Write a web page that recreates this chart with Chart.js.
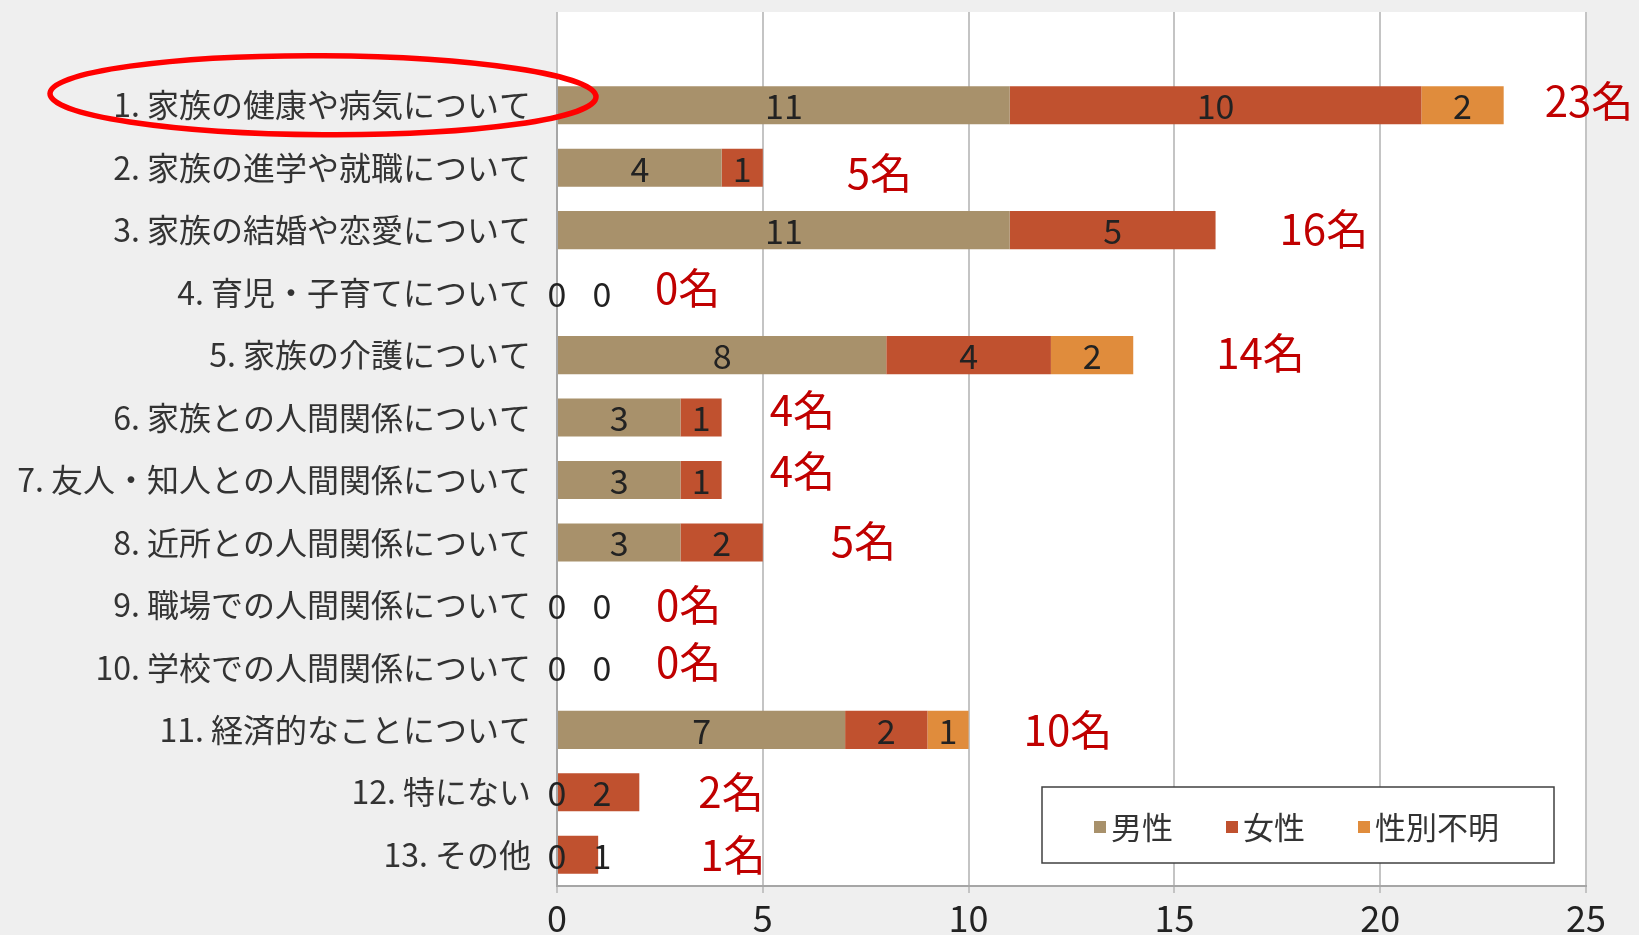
<!DOCTYPE html>
<html>
<head>
<meta charset="utf-8">
<title>相談内容</title>
<script src="https://cdn.jsdelivr.net/npm/chart.js@4.4.0/dist/chart.umd.min.js"></script>
<style>
  html, body { margin: 0; padding: 0; background: #efefef; overflow: hidden; }
  #wrap { width: 1639px; height: 935px; position: relative; }
</style>
</head>
<body>
<div id="wrap"><canvas id="chart"></canvas></div>
<script>
const categories = [
  "1. 家族の健康や病気について",
  "2. 家族の進学や就職について",
  "3. 家族の結婚や恋愛について",
  "4. 育児・子育てについて",
  "5. 家族の介護について",
  "6. 家族との人間関係について",
  "7. 友人・知人との人間関係について",
  "8. 近所との人間関係について",
  "9. 職場での人間関係について",
  "10. 学校での人間関係について",
  "11. 経済的なことについて",
  "12. 特にない",
  "13. その他"
];
const male    = [11, 4, 11, 0, 8, 3, 3, 3, 0, 0, 7, 0, 0];
const female  = [10, 1, 5, 0, 4, 1, 1, 2, 0, 0, 2, 2, 1];
const unknown = [2, null, null, null, 2, null, null, null, null, null, 1, null, null];
const totals  = [23, 5, 16, 0, 14, 4, 4, 5, 0, 0, 10, 2, 1];
const seriesNames = ["男性", "女性", "性別不明"];
const xTicks = [0, 5, 10, 15, 20, 25];

// hand placed "n名" boxes: offset in px from bar end / bar centre
const totalOffsets = [[41, -4], [84, 5], [64, -1], [98, -5], [83, -2], [48, -7], [48, -9],
                      [68, -1], [99, 0], [99, -5], [55, 0], [59, 0], [102, 0]];

const FONT = "'Noto Sans CJK JP', 'Noto Sans', sans-serif";
const colors = ["#a8916b", "#c0512f", "#e08c3c"];

// white plot panel and grid lines reaching up to the top
const plotPanel = {
  id: "plotPanel",
  beforeDraw(chart) {
    const { ctx, chartArea } = chart;
    ctx.save();
    ctx.fillStyle = "#ffffff";
    ctx.fillRect(chartArea.left, 12, chartArea.right - chartArea.left, chartArea.bottom - 12);
    ctx.restore();
  },
  beforeDatasetsDraw(chart) {
    const { ctx, chartArea, scales } = chart;
    ctx.save();
    ctx.strokeStyle = "#c4c4c4";
    ctx.lineWidth = 2;
    xTicks.forEach(v => {
      const x = Math.round(scales.x.getPixelForValue(v));
      ctx.beginPath();
      ctx.moveTo(x, 12);
      ctx.lineTo(x, chartArea.top);
      ctx.stroke();
    });
    ctx.restore();
  }
};

// value labels in the segments and the red totals
const barLabels = {
  id: "barLabels",
  afterDatasetsDraw(chart) {
    const { ctx, scales } = chart;
    ctx.save();
    ctx.font = "34px " + FONT;
    ctx.fillStyle = "#222";
    ctx.textBaseline = "middle";
    ctx.textAlign = "center";
    for (let i = 0; i < categories.length; i++) {
      let lastRight = -Infinity;
      let lastZero = false;
      chart.data.datasets.forEach((ds, d) => {
        const v = ds.data[i];
        if (v == null) return;
        const el = chart.getDatasetMeta(d).data[i];
        const txt = String(v);
        const w = ctx.measureText(txt).width;
        let x = (el.x + el.base) / 2;
        const gap = lastZero ? 26 : 2;
        x = Math.max(x, lastRight + gap + w / 2);
        ctx.fillText(txt, x, el.y + 1);
        lastRight = x + w / 2;
        lastZero = v === 0;
      });
    }
    ctx.font = "42px " + FONT;
    ctx.fillStyle = "#c00000";
    ctx.textAlign = "left";
    totals.forEach((t, i) => {
      const x = scales.x.getPixelForValue(t) + totalOffsets[i][0];
      const y = scales.y.getPixelForValue(i) + totalOffsets[i][1];
      ctx.fillText(t + "名", x, y);
    });
    ctx.restore();
  }
};

// legend box inside the plot, and the red ellipse round item 1
const extras = {
  id: "extras",
  afterDraw(chart) {
    const { ctx, chartArea, scales } = chart;
    ctx.save();
    const bx = chartArea.right - 544, by = chartArea.bottom - 99, bw = 512, bh = 76;
    ctx.fillStyle = "#ffffff";
    ctx.fillRect(bx, by, bw, bh);
    ctx.strokeStyle = "#404040";
    ctx.lineWidth = 1.5;
    ctx.strokeRect(bx, by, bw, bh);
    ctx.font = "31px " + FONT;
    ctx.textBaseline = "middle";
    ctx.textAlign = "left";
    let x = bx + 52;
    const cy = by + bh / 2 + 2;
    seriesNames.forEach((name, k) => {
      ctx.fillStyle = colors[k];
      ctx.fillRect(x, cy - 6, 12, 12);
      ctx.fillStyle = "#333";
      ctx.fillText(name, x + 17, cy);
      x += 17 + ctx.measureText(name).width + 53;
    });

    ctx.strokeStyle = "#ff0000";
    ctx.lineWidth = 5.5;
    ctx.beginPath();
    ctx.ellipse(323, scales.y.getPixelForValue(0) - 10, 273, 39.5, 0.006, 0, Math.PI * 2);
    ctx.stroke();
    ctx.restore();
  }
};

const data = {
  labels: categories,
  datasets: [
    { label: seriesNames[0], data: male, backgroundColor: colors[0] },
    { label: seriesNames[1], data: female, backgroundColor: colors[1] },
    { label: seriesNames[2], data: unknown, backgroundColor: colors[2] }
  ].map(d => Object.assign(d, { categoryPercentage: 1, barPercentage: 0.61 }))
};

new Chart(document.getElementById("chart"), {
  type: "bar",
  data: data,
  options: {
    indexAxis: "y",
    responsive: true,
    maintainAspectRatio: false,
    animation: false,
    layout: { padding: { top: 74, right: 53, left: 0, bottom: 0 } },
    plugins: { legend: { display: false }, tooltip: { enabled: false } },
    scales: {
      x: {
        stacked: true,
        min: 0,
        max: 25,
        afterBuildTicks(scale) { scale.ticks = xTicks.map(v => ({ value: v })); },
        afterFit(scale) { scale.height = 49; },
        grid: { color: "#c4c4c4", lineWidth: 2, tickLength: 7, drawTicks: true },
        border: { color: "#a6a6a6", width: 2 },
        ticks: { font: { family: FONT, size: 36 }, color: "#222", padding: 4, maxRotation: 0 }
      },
      y: {
        stacked: true,
        afterFit(scale) { scale.width = 557; },
        grid: { display: false },
        border: { color: "#a6a6a6", width: 2 },
        ticks: { font: { family: FONT, size: 32 }, color: "#333", padding: 18, autoSkip: false }
      }
    }
  },
  plugins: [plotPanel, barLabels, extras]
});
</script>
</body>
</html>
